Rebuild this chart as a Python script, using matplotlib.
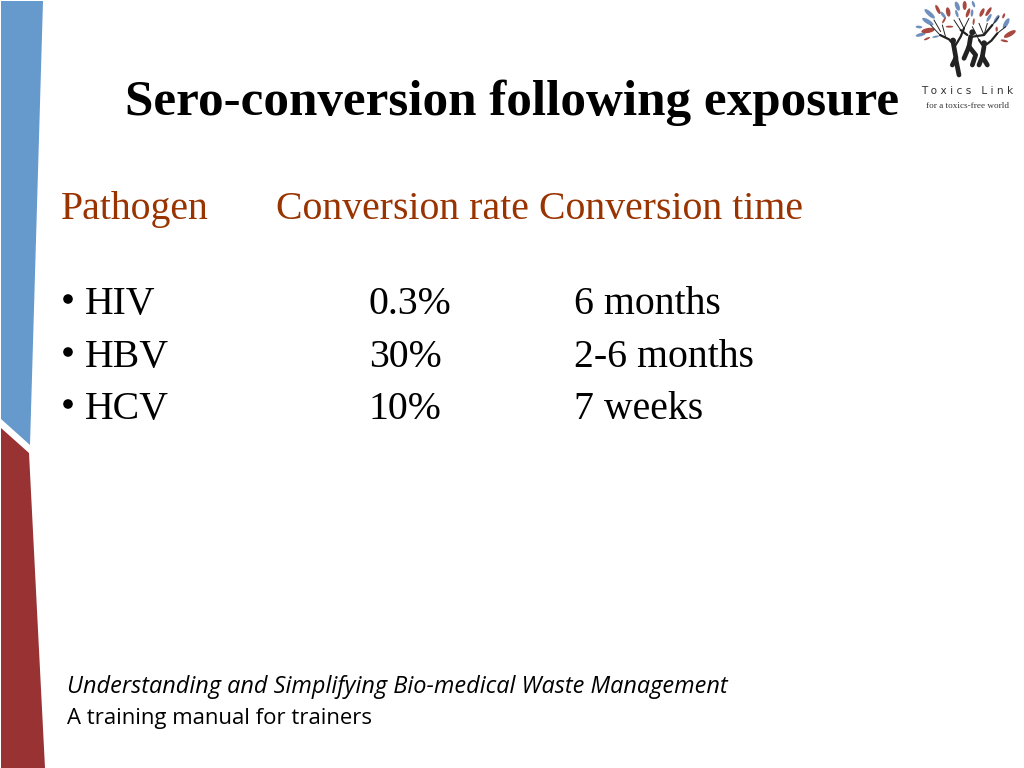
import matplotlib
matplotlib.use("Agg")
import matplotlib.pyplot as plt
from matplotlib.patches import Polygon, Ellipse, Circle
import math

title = "Sero-conversion following exposure"
headers = ["Pathogen", "Conversion rate", "Conversion time"]
pathogens = ["HIV", "HBV", "HCV"]
rates = ["0.3%", "30%", "10%"]
times = ["6 months", "2-6 months", "7 weeks"]
footer = ["Understanding and Simplifying Bio-medical Waste Management", "A training manual for trainers"]
logo_text = ["T o x i c s   L i n k", "for a toxics-free world"]

BLUE, RED = "#6699cc", "#993333"
fig = plt.figure(figsize=(10.24, 7.68), dpi=100, facecolor="white")
ax = fig.add_axes([0, 0, 1, 1])
ax.set_xlim(0, 1024); ax.set_ylim(768, 0); ax.axis("off")

ax.add_patch(Polygon([(1, 1), (43, 1), (30, 445), (1, 419)], fc=BLUE, ec="none"))
ax.add_patch(Polygon([(1, 428), (29, 453), (45, 768), (1, 768)], fc=RED, ec="none"))

serif = "Liberation Serif"
ax.text(125, 114.5, title, family=serif, weight="bold", fontsize=36.85, color="black", va="baseline", ha="left")
for x, s in zip([61, 276, 539], headers):
    ax.text(x, 219, s, family=serif, fontsize=28.6, color="#993300", va="baseline", ha="left")
base = [314, 367, 419]
for y, p, r, t in zip(base, pathogens, rates, times):
    ax.add_patch(Circle((68, y - 15), 4.8, fc="black", ec="none"))
    ax.text(85, y, p, family=serif, fontsize=28.6, va="baseline", ha="left")
    ax.text(369, y, r, family=serif, fontsize=28.6, va="baseline", ha="left")
    ax.text(574, y, t, family=serif, fontsize=28.6, va="baseline", ha="left")

ax.text(67, 693, footer[0], family="Open Sans", style="italic", fontsize=16.9, va="baseline", ha="left")
ax.text(67, 724, footer[1], family="Open Sans", fontsize=15.9, va="baseline", ha="left")

# Logo drawn in its own small coordinate frame (1 unit = 1/3 px)
def X(v): return 904 + v / 3
def Y(v): return v / 3
lb, lr = "#6f8fbc", "#a8483f"
blue_leaves = [(62,28,92,55,13),(55,55,88,75,13),(35,80,55,82,8),(35,108,65,100,10),(110,35,125,55,9),
               (155,5,165,32,13),(155,30,162,52,8),(205,3,212,22,8),(205,28,203,50,8),(262,42,248,65,9),
               (285,45,270,70,10),(315,55,298,85,13),(85,112,105,108,6)]
red_leaves = [(95,15,108,42,10),(130,22,135,50,13),(182,3,182,30,12),(197,25,187,52,10),(240,25,228,50,11),
              (262,22,245,48,10),(52,95,92,88,15),(60,120,78,112,6),(125,52,115,70,6),(125,80,148,80,6),
              (210,55,208,75,6),(302,40,296,55,7),(335,92,300,112,14),(290,120,312,125,7),(278,80,278,95,7)]
for group, c in ((blue_leaves, lb), (red_leaves, lr)):
    for x1, y1, x2, y2, w in group:
        px, py = X((x1 + x2) / 2), Y((y1 + y2) / 2)
        length = math.hypot(x2 - x1, y2 - y1) / 3
        ang = math.degrees(math.atan2(y2 - y1, x2 - x1))
        ax.add_patch(Ellipse((px, py), length, w / 3, angle=ang, fc=c, ec="none"))
k = "#222222"
thick = [[(148,130),(156,175)],[(155,175),(165,225)],[(155,175),(145,195)],
         [(200,110),(195,140)],[(195,140),(180,175)],[(195,140),(215,165),(205,195)],
         [(240,140),(235,170)],[(235,170),(225,195)],[(235,170),(250,195)]]
limbs = [[(108,105),(135,118),(150,135)],[(155,135),(170,110),(180,85)],
         [(190,105),(170,90)],[(205,110),(240,105),(265,75)],
         [(235,135),(225,120)],[(245,135),(262,122),(280,100)]]
twigs = [[(108,105),(80,75)],[(110,95),(90,60)],[(125,112),(115,75)],[(180,85),(165,55)],[(180,85),(195,55)],
         [(170,90),(150,60)],[(265,75),(285,50)],[(240,105),(225,70)],[(240,105),(250,70)],[(280,100),(305,80)],[(225,120),(205,80)]]
for group, lw in ((thick, 3.4), (limbs, 1.6), (twigs, 0.7)):
    for pts in group:
        xs, ys_ = zip(*pts)
        ax.plot([X(v) for v in xs], [Y(v) for v in ys_], color=k, lw=lw, solid_capstyle="round", solid_joinstyle="round")
for x, y in [(147,122),(205,97),(240,130)]:
    ax.add_patch(Circle((X(x), Y(y)), 3, fc=k, ec="none"))
ax.text(X(190), 90, logo_text[0], family="DejaVu Sans", fontsize=7.6, color="#333333", ha="center", va="center_baseline")
ax.text(X(191), 105.5, logo_text[1], family=serif, fontsize=6.6, color="#333333", ha="center", va="center_baseline")

fig.savefig("out.png", dpi=100, facecolor="white")
